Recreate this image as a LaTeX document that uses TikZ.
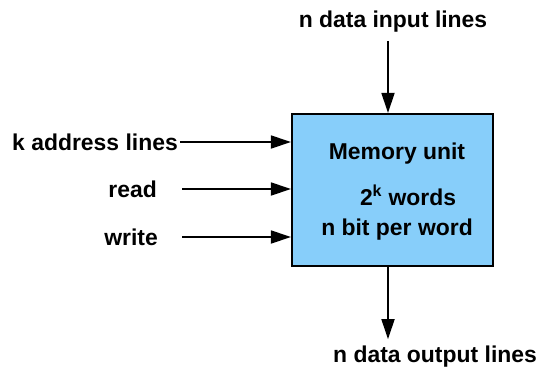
\documentclass[tikz,border=0pt]{standalone}
\usepackage{fontspec}
\setmainfont{Liberation Sans}
\usepackage{xcolor}
\usetikzlibrary{arrows.meta,positioning}

\definecolor{memblue}{RGB}{135,206,250}

\begin{document}
\begin{tikzpicture}[
    x=1bp,y=-1bp,
    memory/.style={rectangle,draw,line width=2.2bp,fill=memblue,minimum width=201bp,minimum height=152bp,inner sep=0pt},
    lbl/.style={font=\fontsize{23}{26}\selectfont\bfseries,inner sep=0pt},
    arrow/.style={-{Triangle[length=20bp,width=13bp]},line width=1.8bp}
]
    \useasboundingbox (0,0) rectangle (538,374);

    % Memory block
    \node[memory] (mem) at (392.5,190) {};
    \node[lbl] (name) at (397,154) {Memory unit};
    \node[lbl] (words) at (408,195) {2\textsuperscript{k} words};
    \node[lbl] (bits) at (397,230) {n bit per word};

    % Data lines
    \node[lbl] (din) at (393,22) {n data input lines};
    \node[lbl] (dout) at (435,357) {n data output lines};

    % Address and control lines
    \node[lbl,anchor=east] (addr) at (178,142) {k address lines};
    \node[lbl,anchor=east] (rd) at (157,189) {read};
    \node[lbl,anchor=east] (wr) at (158,237) {write};

    % Inputs
    \draw[arrow] ([xshift=-5bp,yshift=-8bp]din.south) -- ([xshift=-5bp]din.south |- mem.north);
    \draw[arrow] ([xshift=2bp]addr.east) -- (addr.east -| mem.west);
    \draw[arrow] ([xshift=25bp]rd.east) -- (rd.east -| mem.west);
    \draw[arrow] ([xshift=24bp]wr.east) -- (wr.east -| mem.west);

    % Output
    \coordinate (o) at ([xshift=-5bp]din.south |- mem.south);
    \draw[arrow] (o) -- ([yshift=7bp]o |- dout.north);
\end{tikzpicture}
\end{document}
